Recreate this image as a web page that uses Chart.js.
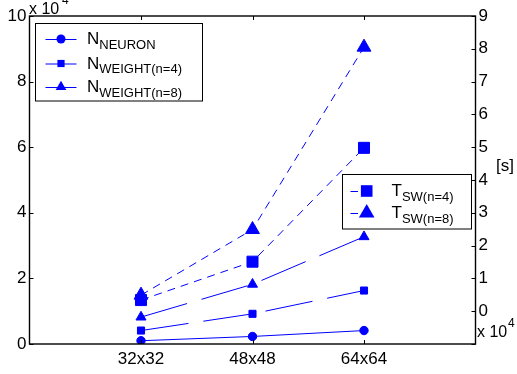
<!DOCTYPE html>
<html><head><meta charset="utf-8">
<script src="https://cdn.jsdelivr.net/npm/chart.js@4.4.0/dist/chart.umd.min.js"></script>
<style>html,body{margin:0;padding:0;background:#fff;overflow:hidden}canvas{display:block}</style>
</head><body>
<canvas id="c" width="517" height="374" style="width:517px;height:374px"></canvas>
<script>
// ---- data ----
const categories = ['32x32', '48x48', '64x64'];
const categoryPositions = [1, 2, 3];
const nNeuron = [0.10, 0.23, 0.41];
const nWeight4 = [0.41, 0.92, 1.63];
const nWeight8 = [0.82, 1.82, 3.27];
const tSw4 = [0.34, 1.51, 4.98];
const tSw8 = [0.49, 2.49, 8.05];
const leftTicks = [0, 2, 4, 6, 8, 10];
const rightTicks = [-1, 0, 1, 2, 3, 4, 5, 6, 7, 8, 9];
const leftLegendMain = ['N', 'N', 'N'];
const leftLegendSub = ['NEURON', 'WEIGHT(n=4)', 'WEIGHT(n=8)'];
const rightLegendMain = ['T', 'T'];
const rightLegendSub = ['SW(n=4)', 'SW(n=8)'];
const multiplierText = 'x 10';
const multiplierExp = '4';
const rightAxisTitle = '[s]';

const BLUE = '#0000ff';
const FONT = "'Liberation Sans', Arial, Helvetica, sans-serif";

function pts(arr) { return categoryPositions.map((x, i) => ({ x: x, y: arr[i] })); }

function ds(label, arr, axis, style, radius, dash) {
  const d = {
    label: label, data: pts(arr), yAxisID: axis, showLine: true,
    borderColor: BLUE, backgroundColor: BLUE, borderWidth: 1,
    pointStyle: style, pointRadius: radius, pointBorderWidth: 1,
    pointBackgroundColor: BLUE, pointBorderColor: BLUE, tension: 0
  };
  if (dash) d.segment = { borderDash: () => dash };
  return d;
}

function drawMarker(ctx, style, x, y, r) {
  ctx.beginPath();
  if (style === 'circle') {
    ctx.arc(x, y, r, 0, Math.PI * 2);
  } else if (style === 'rect') {
    ctx.rect(x - r, y - r, 2 * r, 2 * r);
  } else {
    ctx.moveTo(x, y - r);
    ctx.lineTo(x + r * 0.866, y + r * 0.5);
    ctx.lineTo(x - r * 0.866, y + r * 0.5);
    ctx.closePath();
  }
  ctx.fillStyle = BLUE;
  ctx.fill();
}

function subText(ctx, main, sub, x, y, mainSize, subSize) {
  ctx.fillStyle = '#000';
  ctx.textBaseline = 'alphabetic';
  ctx.textAlign = 'left';
  ctx.font = mainSize + 'px ' + FONT;
  ctx.fillText(main, x, y + 5);
  const w = ctx.measureText(main).width;
  ctx.font = subSize + 'px ' + FONT;
  ctx.fillText(sub, x + w, y + 9.5);
}

const decor = {
  id: 'decor',
  afterDraw(chart) {
    const ctx = chart.ctx;
    const a = chart.chartArea;
    const sx = chart.scales.x, yl = chart.scales.yL, yr = chart.scales.yR;
    ctx.save();
    ctx.strokeStyle = '#000';
    ctx.lineWidth = 1;
    // inward ticks
    ctx.beginPath();
    leftTicks.forEach(v => { const y = Math.round(yl.getPixelForValue(v)) + 0.5; ctx.moveTo(a.left, y); ctx.lineTo(a.left + 4, y); });
    rightTicks.forEach(v => { const y = Math.round(yr.getPixelForValue(v)) + 0.5; ctx.moveTo(a.right, y); ctx.lineTo(a.right - 4, y); });
    categoryPositions.forEach(v => {
      const x = Math.round(sx.getPixelForValue(v)) + 0.5;
      ctx.moveTo(x, a.bottom); ctx.lineTo(x, a.bottom - 4);
      ctx.moveTo(x, a.top); ctx.lineTo(x, a.top + 4);
    });
    ctx.stroke();
    // box
    ctx.lineWidth = 1.4;
    ctx.strokeRect(a.left, a.top, a.right - a.left, a.bottom - a.top);

    // multipliers
    ctx.fillStyle = '#000';
    ctx.textAlign = 'left';
    ctx.textBaseline = 'alphabetic';
    ctx.font = '16px ' + FONT;
    ctx.fillText(multiplierText, 29, 13.5);
    ctx.fillText(multiplierText, 477, 337);
    ctx.font = '12px ' + FONT;
    ctx.fillText(multiplierExp, 62, 3.5);
    ctx.fillText(multiplierExp, 508, 327);
    ctx.font = '17px ' + FONT;
    ctx.textBaseline = 'middle';
    ctx.fillText(rightAxisTitle, 496, 166);

    // legend 1
    ctx.fillStyle = '#fff';
    ctx.fillRect(35.5, 23.5, 167, 77.5);
    ctx.lineWidth = 1;
    ctx.strokeStyle = '#000';
    ctx.strokeRect(35.5, 23.5, 167, 77.5);
    const rows1 = [39, 63.5, 87];
    const st1 = ['circle', 'rect', 'triangle'];
    const sz1 = [4.5, 3.6, 6.2];
    rows1.forEach((y, i) => {
      ctx.strokeStyle = BLUE; ctx.lineWidth = 1; ctx.setLineDash([]);
      ctx.beginPath(); ctx.moveTo(45.5, y + 0.5); ctx.lineTo(76.5, y + 0.5); ctx.stroke();
      drawMarker(ctx, st1[i], 61, y, sz1[i]);
      subText(ctx, leftLegendMain[i], leftLegendSub[i], 87, y, 17, 13);
    });

    // legend 2
    ctx.fillStyle = '#fff';
    ctx.fillRect(342.5, 174.5, 129, 54.5);
    ctx.strokeStyle = '#000';
    ctx.strokeRect(342.5, 174.5, 129, 54.5);
    const rows2 = [191, 213];
    const st2 = ['rect', 'triangle'];
    const sz2 = [5.8, 9];
    rows2.forEach((y, i) => {
      ctx.strokeStyle = BLUE; ctx.lineWidth = 1;
      ctx.beginPath(); ctx.moveTo(350.5, y + 0.5); ctx.lineTo(358, y + 0.5); ctx.stroke();
      drawMarker(ctx, st2[i], 366.7, y, sz2[i]);
      subText(ctx, rightLegendMain[i], rightLegendSub[i], 391.5, y, 17, 13);
    });
    ctx.restore();
  }
};

new Chart(document.getElementById('c'), {
  type: 'scatter',
  data: {
    datasets: [
      ds('N_NEURON', nNeuron, 'yL', 'circle', 4.2, null),
      ds('N_WEIGHT(n=4)', nWeight4, 'yL', 'rect', 5.0, [48, 15]),
      ds('N_WEIGHT(n=8)', nWeight8, 'yL', 'triangle', 5.8, [48, 15]),
      ds('T_SW(n=4)', tSw4, 'yR', 'rect', 7.8, [8, 6]),
      ds('T_SW(n=8)', tSw8, 'yR', 'triangle', 8.0, [8, 6])
    ]
  },
  options: {
    responsive: false, animation: false, devicePixelRatio: 1,
    layout: { padding: { top: 16, left: 0, right: 0, bottom: 0 } },
    plugins: { legend: { display: false }, tooltip: { enabled: false } },
    scales: {
      x: {
        type: 'linear', position: 'bottom', min: 0, max: 4,
        afterBuildTicks: s => { s.ticks = categoryPositions.map(v => ({ value: v })); },
        afterFit: s => { s.height = 30; },
        ticks: {
          callback: v => { const i = categoryPositions.indexOf(v); return i >= 0 ? categories[i] : ''; },
          font: { family: FONT, size: 17 }, color: '#000', padding: 5, maxRotation: 0, autoSkip: false
        },
        grid: { display: false, drawTicks: false }, border: { display: false }
      },
      yL: {
        type: 'linear', position: 'left', min: 0, max: 10,
        afterBuildTicks: s => { s.ticks = leftTicks.map(v => ({ value: v })); },
        afterFit: s => { s.width = 29.5; },
        ticks: { font: { family: FONT, size: 17 }, color: '#000', padding: 3 },
        grid: { display: false, drawTicks: false }, border: { display: false }
      },
      yR: {
        type: 'linear', position: 'right', min: -1, max: 9,
        afterBuildTicks: s => { s.ticks = rightTicks.map(v => ({ value: v })); },
        afterFit: s => { s.width = 41.5; },
        ticks: { callback: v => (v < 0 ? '' : String(v)), font: { family: FONT, size: 17 }, color: '#000', padding: 3 },
        grid: { display: false, drawTicks: false }, border: { display: false }
      }
    }
  },
  plugins: [decor]
});
</script>
</body></html>
